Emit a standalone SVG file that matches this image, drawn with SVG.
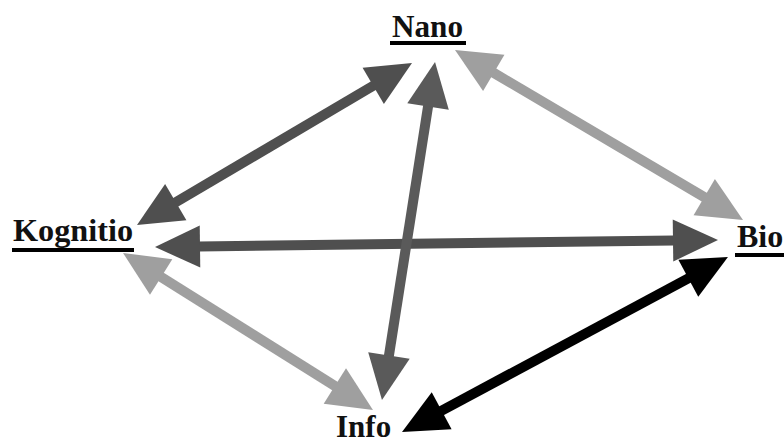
<svg xmlns="http://www.w3.org/2000/svg" width="784" height="443" viewBox="0 0 784 443">
<style>
.lbl{font-family:'Liberation Serif','Times New Roman',serif;font-weight:bold;fill:#111;}
.ul{stroke:#000;stroke-width:4;}
.shaft{stroke-width:10;fill:none;stroke-linecap:butt;}
</style>
<defs>
<marker id="hDark" markerUnits="userSpaceOnUse" orient="auto-start-reverse" refX="0" refY="0" markerWidth="50" markerHeight="50" overflow="visible"><path d="M-1,-21 L44,0 L-1,21 z" fill="#4f4f4f"/></marker>
<marker id="hMid" markerUnits="userSpaceOnUse" orient="auto-start-reverse" refX="0" refY="0" markerWidth="50" markerHeight="50" overflow="visible"><path d="M-1,-21 L44,0 L-1,21 z" fill="#5a5a5a"/></marker>
<marker id="hLight" markerUnits="userSpaceOnUse" orient="auto-start-reverse" refX="0" refY="0" markerWidth="50" markerHeight="50" overflow="visible"><path d="M-1,-21 L44,0 L-1,21 z" fill="#9f9f9f"/></marker>
<marker id="hBlack" markerUnits="userSpaceOnUse" orient="auto-start-reverse" refX="0" refY="0" markerWidth="50" markerHeight="50" overflow="visible"><path d="M-1,-21 L44,0 L-1,21 z" fill="#000"/></marker>
</defs>
<rect width="784" height="443" fill="#fff"/>
<g id="connectors">
<line class="shaft" x1="174.9" y1="202.7" x2="374.1" y2="85.3" stroke="#4f4f4f" marker-start="url(#hDark)" marker-end="url(#hDark)"/>
<line class="shaft" x1="492.9" y1="72.4" x2="705.1" y2="197.6" stroke="#9f9f9f" marker-start="url(#hLight)" marker-end="url(#hLight)"/>
<line class="shaft" x1="160.3" y1="276.4" x2="335.7" y2="386.6" stroke="#9f9f9f" marker-start="url(#hLight)" marker-end="url(#hLight)"/>
<line class="shaft" x1="689.2" y1="277.8" x2="440.8" y2="411.2" stroke="#000" marker-start="url(#hBlack)" marker-end="url(#hBlack)"/>
<line class="shaft" x1="199" y1="246.5" x2="674" y2="240.5" stroke="#4f4f4f" marker-start="url(#hDark)" marker-end="url(#hDark)"/>
<line class="shaft" x1="428.2" y1="105.5" x2="388.8" y2="356.5" stroke="#5a5a5a" marker-start="url(#hMid)" marker-end="url(#hMid)"/>
</g>
<g id="nano">
<text class="lbl" x="392" y="37" font-size="31" textLength="71" lengthAdjust="spacingAndGlyphs">Nano</text>
<line class="ul" x1="390" y1="43" x2="466" y2="43"/>
</g>
<g id="kognitio">
<text class="lbl" x="13" y="241" font-size="32" textLength="120" lengthAdjust="spacingAndGlyphs">Kognitio</text>
<line class="ul" x1="12" y1="250" x2="134" y2="250"/>
</g>
<g id="bio">
<text class="lbl" x="737" y="247" font-size="32">Bio</text>
<line class="ul" x1="735" y1="255" x2="784" y2="255"/>
</g>
<g id="info">
<text class="lbl" x="336" y="437" font-size="31">Info</text>
</g>
</svg>
